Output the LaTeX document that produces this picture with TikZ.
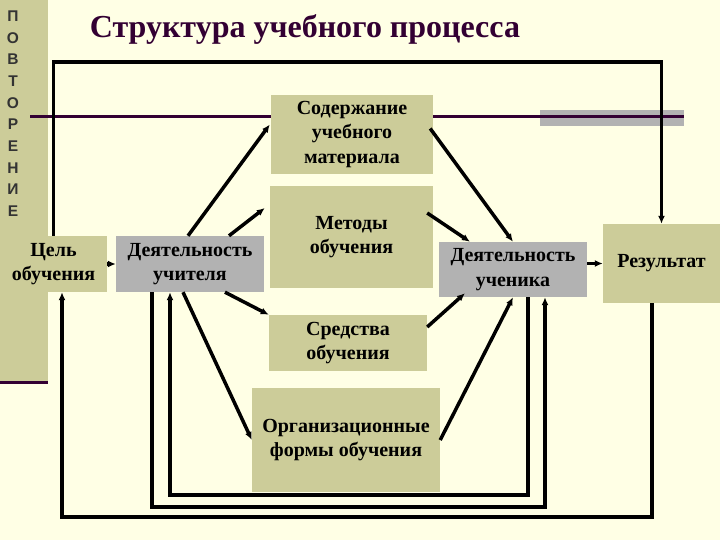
\documentclass[tikz,border=0pt]{standalone}
\usepackage{fontspec}
\setmainfont{Liberation Serif}
\newfontfamily\sidefont{Liberation Sans}
\usetikzlibrary{arrows.meta,calc}
\definecolor{paper}{HTML}{FFFFE5}
\definecolor{boxfill}{HTML}{CCCC99}
\definecolor{actfill}{HTML}{B2B2B2}
\definecolor{plum}{HTML}{330033}
\definecolor{ink}{HTML}{000000}
\tikzset{
  >={Latex[length=8pt,width=7pt]},
  every node/.style={font=\fontsize{20}{24.5}\selectfont\bfseries,text=ink},
  box/.style={fill=boxfill,align=center,inner sep=2pt},
  actbox/.style={box,fill=actfill},
  arrow/.style={->,line width=3.5pt,draw=ink},
  feed/.style={arrow,line join=miter},
  rule/.style={line width=3pt,draw=plum},
  heading/.style={font=\fontsize{32}{38}\selectfont\bfseries,text=plum},
  letter/.style={font=\sidefont\bfseries\fontsize{15.5}{17}\selectfont,text=ink!80},
}

\begin{document}
\begin{tikzpicture}[x=1pt,y=1pt]
\fill[paper] (0,0) rectangle (720,540);
\useasboundingbox (0,0) rectangle (720,540);
\fill[boxfill] (0,157) rectangle (48,540);
\draw[rule] (0,157) -- (48,157);
\fill[actfill] (540,414) rectangle (684,430);
\draw[rule] (30,423) -- (684,423);
\foreach \ch [count=\i from 0] in {П,О,В,Т,О,Р,Е,Н,И,Е}
  \node[letter] (l\i) at (13,524-21.7*\i) {\ch};
\node[heading] (title) at (305,510) {Структура учебного процесса};

\node[box,minimum width=107pt,minimum height=56pt] (goal) at (53.5,276) {Цель\\обучения};
\node[actbox,minimum width=148pt,minimum height=56pt] (teacher) at (190,276) {Деятельность\\учителя};
\node[box,minimum width=162pt,minimum height=79pt] (content) at (352,405.5) {Содержание\\учебного\\материала};
\node[box,minimum width=163pt,minimum height=102pt] (methods) at (351.5,303) {Методы\\обучения};
\node[box,minimum width=158pt,minimum height=56pt] (means) at (348,197) {Средства\\обучения};
\node[box,minimum width=188pt,minimum height=104pt] (forms) at (346,100) {Организационные\\формы обучения};
\node[actbox,minimum width=148pt,minimum height=55pt] (pupil) at (513,270.5) {Деятельность\\ученика};
\node[box,minimum width=117pt,minimum height=79pt] (result) at (661.5,276.5) {Результат};

\draw[arrow] (goal.east) -- (teacher.west);
\draw[arrow] ($(teacher.north)+(-2,0)$) -- ($(content.west)+(-1,10)$);
\draw[arrow] ($(teacher.north)+(39,0)$) -- ($(methods.west)+(-5,29)$);
\draw[arrow] ($(teacher.south)+(35,0)$) -- (means.north west);
\draw[arrow] ($(teacher.south)+(-7,0)$) -- (forms.west);
\draw[arrow] ($(content.east)+(-3,6)$) -- (pupil.north);
\draw[arrow] ($(methods.east)+(-6,24)$) -- ($(pupil.north)+(-43,0)$);
\draw[arrow] ($(means.east)+(0,16)$) -- ($(pupil.south)+(-48,4)$);
\draw[arrow] (forms.east) -- (pupil.south);
\draw[arrow] (pupil.east |- result.west) -- (result.west);

\draw[feed] ($(pupil.south)+(15,0)$) -- ++(0,-198) -| ($(teacher.south)+(-20,0)$);
\draw[feed] ($(teacher.south)+(-38,0)$) -- ++(0,-215) -| ($(pupil.south)+(32,0)$);
\draw[feed] ($(result.south)+(-9.5,0)$) -- ++(0,-214) -| ($(goal.south)+(8.5,0)$);
\draw[feed] (goal.north) -- ++(0,174) -| (result.north);
\end{tikzpicture}
\end{document}
